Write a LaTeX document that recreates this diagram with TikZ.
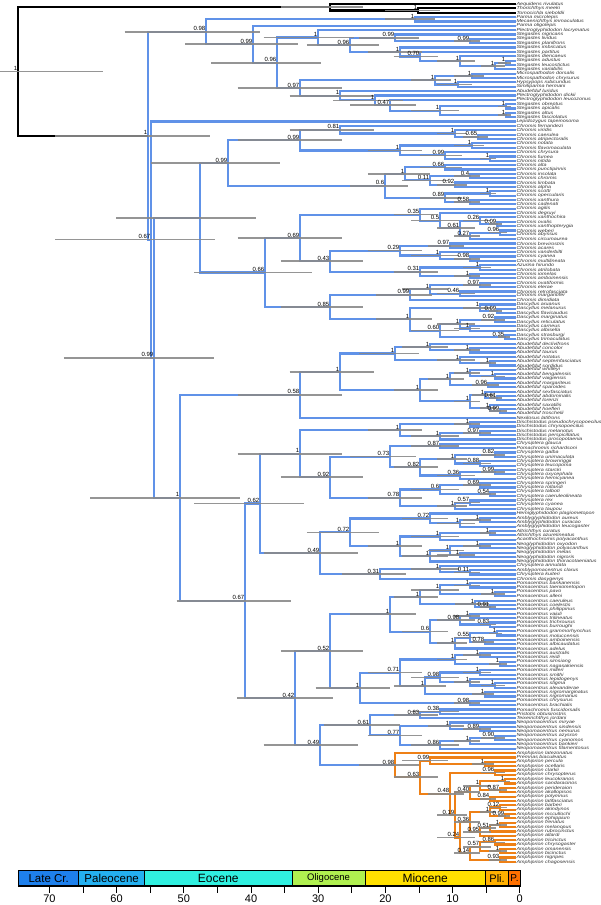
\documentclass[tikz,border=0pt]{standalone}
\usepackage{fontspec}
\setmainfont{Liberation Sans}
\newfontfamily\tipfont[FakeStretch=1.22]{Liberation Sans}
\usetikzlibrary{calc}

\pgfdeclarelayer{hpdl}
\pgfdeclarelayer{fg}
\pgfsetlayers{main,hpdl,fg}

\definecolor{pblue}{RGB}{96,146,232}
\definecolor{amph}{RGB}{238,128,22}
\definecolor{hpdgray}{RGB}{138,138,138}
\definecolor{lcr}{RGB}{30,128,236}
\definecolor{paleo}{RGB}{36,176,240}
\definecolor{eoc}{RGB}{48,240,224}
\definecolor{oligo}{RGB}{176,240,80}
\definecolor{mioc}{RGB}{255,224,0}
\definecolor{plio}{RGB}{255,176,0}
\definecolor{pleist}{RGB}{255,112,0}
\colorlet{brc}{pblue}

\tikzset{
  br/.style={draw=brc, line width=2.2pt, line join=miter},
  hpd/.style={draw=hpdgray, line width=1.6pt, opacity=0.9},
  pp/.style={anchor=south east, inner sep=0.6pt, font=\fontsize{6}{6}\selectfont},
  tip/.style={anchor=west, inner sep=0.8pt, text=black!80, font=\tipfont\fontsize{4.4}{4.4}\selectfont\itshape},
  ep/.style={inner sep=0pt},
  yr/.style={anchor=north, inner sep=0pt, font=\fontsize{11}{11}\selectfont}
}

% node: name, x, child 1, child 2, posterior
\newcommand\nd[5]{%
  \path let \p1=(#3), \p2=(#4) in (#2pt,{(\y1+\y2)/2}) coordinate (#1);
  \draw[br] (#3) -| (#1) |- (#4);
  \pgfmathsetmacro\hw{0.2*(515-#2)+3+mod(#2,7)}
  \pgfmathsetmacro\hwl{1.2*\hw}
  \pgfmathsetmacro\hwr{min(0.8*\hw,513-#2)}
  \begin{pgfonlayer}{hpdl}\draw[hpd] ([xshift=-\hwl pt]#1) -- ([xshift=\hwr pt]#1);\end{pgfonlayer}
  \begin{pgfonlayer}{fg}\node[pp] (#1l) at (#1) {#5};\end{pgfonlayer}}

\begin{document}
\begin{tikzpicture}[x=1pt,y=-1pt]
\useasboundingbox (0,0) rectangle (600,905);

% tips
\foreach \sp [count=\i] in {Aequidens rivulatus,Thorichthys meeki,Tomocichla sieboldii,Parma microlepis,Mecaenichthys immaculatus,Parma oligolepis,Plectroglyphidodon lacrymatus,Stegastes nigricans,Stegastes lividus,Stegastes planifrons,Stegastes imbricatus,Stegastes partitus,Stegastes diencaeus,Stegastes adustus,Stegastes leucostictus,Stegastes variabilis,Microspathodon dorsalis,Microspathodon chrysurus,Hypsypops rubicundus,Similiparma hermani,Abudefduf luridus,Plectroglyphidodon dickii,Plectroglyphidodon leucozonus,Stegastes obreptus,Stegastes apicalis,Stegastes altus,Stegastes fasciolatus,Lepidozygus tapeinosoma,Chromis fernandezi,Chromis viridis,Chromis caerulea,Chromis atripectoralis,Chromis notata,Chromis flavomaculata,Chromis chrysura,Chromis fumea,Chromis nitida,Chromis alta,Chromis punctipinnis,Chromis insolata,Chromis chromis,Chromis limbata,Chromis alpha,Chromis scotti,Chromis opercularis,Chromis xanthura,Chromis cadenati,Chromis agilis,Chromis degruyi,Chromis xanthochira,Chromis ovalis,Chromis xanthopterygia,Chromis weberi,Chromis abyssus,Chromis circumaurea,Chromis brevirostris,Chromis acares,Chromis vanderbilti,Chromis cyanea,Chromis multilineata,Azurina hirundo,Chromis atrilobata,Chromis iomelas,Chromis amboinensis,Chromis ovatiformis,Chromis elerae,Chromis retrofasciata,Chromis margaritifer,Chromis dimidiata,Dascyllus aruanus,Dascyllus melanurus,Dascyllus flavicaudus,Dascyllus marginatus,Dascyllus reticulatus,Dascyllus carneus,Dascyllus albisella,Dascyllus strasburgi,Dascyllus trimaculatus,Abudefduf declivifrons,Abudefduf concolor,Abudefduf taurus,Abudefduf notatus,Abudefduf septemfasciatus,Abudefduf sordidus,Abudefduf whitleyi,Abudefduf bengalensis,Abudefduf vaigiensis,Abudefduf margariteus,Abudefduf sparoides,Abudefduf sexfasciatus,Abudefduf abdominalis,Abudefduf lorenzi,Abudefduf saxatilis,Abudefduf hoefleri,Abudefduf troschelii,Nexilosus latifrons,Dischistodus pseudochrysopoecilus,Dischistodus chrysopoecilus,Dischistodus melanotus,Dischistodus perspicillatus,Dischistodus prosopotaenia,Chrysiptera glauca,Pomachromis richardsoni,Chrysiptera galba,Chrysiptera unimaculata,Chrysiptera brownriggii,Chrysiptera leucopoma,Chrysiptera starcki,Chrysiptera oxycephala,Chrysiptera hemicyanea,Chrysiptera springeri,Chrysiptera rollandi,Chrysiptera talboti,Chrysiptera caeruleolineata,Chrysiptera rex,Chrysiptera cyanea,Chrysiptera taupou,Hemiglyphidodon plagiometopon,Amblyglyphidodon aureus,Amblyglyphidodon curacao,Amblyglyphidodon leucogaster,Altrichthys curatus,Altrichthys azurelineatus,Acanthochromis polyacanthus,Neoglyphidodon oxyodon,Neoglyphidodon polyacanthus,Neoglyphidodon melas,Neoglyphidodon nigroris,Neoglyphidodon thoracotaeniatus,Chrysiptera annulata,Amblypomacentrus clarus,Chrysiptera kuiteri,Chromis dasygenys,Pomacentrus bankanensis,Pomacentrus taeniometopon,Pomacentrus pavo,Pomacentrus alleni,Pomacentrus caeruleus,Pomacentrus coelestis,Pomacentrus philippinus,Pomacentrus vaiuli,Pomacentrus trilineatus,Pomacentrus trichrourus,Pomacentrus burroughi,Pomacentrus grammorhynchus,Pomacentrus moluccensis,Pomacentrus amboinensis,Pomacentrus albicaudatus,Pomacentrus adelus,Pomacentrus australis,Pomacentrus reidi,Pomacentrus simsiang,Pomacentrus nagasakiensis,Pomacentrus milleri,Pomacentrus smithi,Pomacentrus lepidogenys,Pomacentrus stigma,Pomacentrus alexanderae,Pomacentrus nigromarginatus,Pomacentrus nigromanus,Pomacentrus chrysurus,Pomacentrus brachialis,Pomachromis fuscidorsalis,Pristotis obtusirostris,Teixeirichthys jordani,Neopomacentrus miryae,Neopomacentrus sindensis,Neopomacentrus nemurus,Neopomacentrus azysron,Neopomacentrus cyanomos,Neopomacentrus bankieri,Neopomacentrus filamentosus,Amphiprion latezonatus,Premnas biaculeatus,Amphiprion percula,Amphiprion ocellaris,Amphiprion clarkii,Amphiprion chrysopterus,Amphiprion leucokranos,Amphiprion sandaracinos,Amphiprion perideraion,Amphiprion akallopisos,Amphiprion polymnus,Amphiprion latifasciatus,Amphiprion barberi,Amphiprion akindynos,Amphiprion mccullochi,Amphiprion ephippium,Amphiprion frenatus,Amphiprion melanopus,Amphiprion rubrocinctus,Amphiprion allardi,Amphiprion tricinctus,Amphiprion chrysogaster,Amphiprion omanensis,Amphiprion bicinctus,Amphiprion nigripes,Amphiprion chagosensis}{
  \coordinate (t\i) at (515.5,{4+(\i-1)*4.355});
  \node[tip] (sp\i) at (t\i) {\sp};
}

% outgroup
\colorlet{brc}{black}
\nd{o1}{418}{t2}{t3}{1}
\nd{o2}{330}{t1}{o1}{}
\colorlet{brc}{pblue}

% Stegastinae
\nd{a1}{415}{t4}{t5}{1}
\nd{s1}{470}{t9}{t10}{0.99}
\nd{s2}{395}{t8}{s1}{0.99}
\nd{s3}{506}{t14}{t15}{1}
\nd{s4}{495}{s3}{t16}{1}
\nd{s5}{460}{t13}{s4}{1}
\nd{s6}{420}{t12}{s5}{0.70}
\nd{s7}{400}{t11}{s6}{1}
\nd{st}{350}{s2}{s7}{0.96}
\nd{a4}{318}{t7}{st}{1}
\nd{m1}{472}{t17}{t18}{1}
\nd{m2}{458}{t19}{t20}{1}
\nd{m3}{435}{m1}{m2}{1}
\nd{p1}{506}{t24}{t25}{1}
\nd{p2}{506}{t26}{t27}{1}
\nd{p3}{440}{p1}{p2}{1}
\nd{p4}{390}{t23}{p3}{0.47}
\nd{p5}{375}{t22}{p4}{1}
\nd{p6}{340}{t21}{p5}{1}
\nd{a5}{300}{m3}{p6}{0.97}
\nd{a3}{277}{a4}{a5}{0.96}
\nd{a2}{253}{t6}{a3}{0.99}
\nd{sg}{206}{a1}{a2}{0.98}

% Chrominae
\nd{c1}{478}{t31}{t32}{0.65}
\nd{c2}{455}{t30}{c1}{1}
\nd{c3}{340}{t29}{c2}{0.81}
\nd{c4}{472}{t33}{t34}{1}
\nd{c5}{490}{t36}{t37}{1}
\nd{c6}{445}{t35}{c5}{0.99}
\nd{c7}{400}{c4}{c6}{1}
\nd{c8}{300}{c3}{c7}{0.99}
\nd{c9}{470}{t40}{t41}{0.4}
\nd{c10}{455}{t42}{t43}{0.92}
\nd{c11}{430}{c9}{c10}{0.11}
\nd{c12}{445}{t38}{t39}{0.66}
\nd{c13}{405}{c12}{c11}{1}
\nd{c14}{490}{t44}{t45}{1}
\nd{c15}{470}{t46}{t47}{0.58}
\nd{c16}{445}{c14}{c15}{0.89}
\nd{c17}{385}{c13}{c16}{0.6}
\nd{c18}{228}{c8}{c17}{0.99}
\nd{c20}{497}{t51}{t52}{0.09}
\nd{c21}{480}{t50}{c20}{0.26}
\nd{c22}{500}{t53}{t54}{0.96}
\nd{c23}{470}{c22}{t55}{0.27}
\nd{c24}{460}{c21}{c23}{0.61}
\nd{c25}{440}{t49}{c24}{0.5}
\nd{c26}{420}{t48}{c25}{0.35}
\nd{c27}{450}{t56}{t57}{0.97}
\nd{c28}{470}{t59}{t60}{0.98}
\nd{c29}{440}{t58}{c28}{1}
\nd{c30}{400}{c27}{c29}{0.29}
\nd{c31}{480}{t61}{t62}{1}
\nd{c32}{470}{t63}{t64}{1}
\nd{c33}{420}{c31}{c32}{0.31}
\nd{c34}{330}{c30}{c33}{0.43}
\nd{c35}{300}{c26}{c34}{0.69}
\nd{c36}{480}{t65}{t66}{0.97}
\nd{c37}{460}{t67}{t68}{0.46}
\nd{c38}{430}{c36}{c37}{1}
\nd{c39}{410}{c38}{t69}{0.99}
\nd{d1}{497}{t71}{t72}{0.99}
\nd{d2}{480}{t70}{d1}{1}
\nd{d3}{495}{t73}{t74}{0.92}
\nd{d4}{470}{t75}{t76}{1}
\nd{d5}{460}{d3}{d4}{1}
\nd{d6}{505}{t77}{t78}{0.35}
\nd{d7}{440}{d5}{d6}{0.60}
\nd{d8}{410}{d2}{d7}{1}
\nd{c40}{330}{c39}{d8}{0.85}
\nd{c41}{265}{c35}{c40}{0.66}
\nd{cc}{200}{c18}{c41}{}

% Abudefduf
\nd{b1}{470}{t80}{t81}{1}
\nd{b2}{430}{t79}{b1}{1}
\nd{b3}{490}{t83}{t84}{1}
\nd{b4}{460}{t82}{b3}{1}
\nd{b5}{395}{b2}{b4}{1}
\nd{b6}{495}{t86}{t87}{1}
\nd{b7}{470}{t85}{b6}{1}
\nd{b8}{488}{t88}{t89}{0.96}
\nd{b9}{450}{b7}{b8}{1}
\nd{b10}{497}{t91}{t92}{0.61}
\nd{b11}{485}{t90}{b10}{1}
\nd{b12}{500}{t94}{t95}{0.99}
\nd{b13}{490}{t93}{b12}{1}
\nd{b14}{470}{b11}{b13}{1}
\nd{b15}{420}{b9}{b14}{1}
\nd{b16}{340}{b5}{b15}{1}
\nd{b17}{300}{b16}{t96}{0.58}

% Dischistodus, Chrysiptera, Neoglyphidodon
\nd{e1}{470}{t97}{t98}{1}
\nd{e2}{480}{t99}{t100}{0.97}
\nd{e3}{440}{e2}{t101}{1}
\nd{e4}{400}{e1}{e3}{1}
\nd{e5}{440}{t102}{t103}{0.87}
\nd{e6}{495}{t104}{t105}{0.82}
\nd{e7}{480}{t106}{t107}{0.88}
\nd{e8}{455}{e6}{e7}{1}
\nd{e9}{495}{t108}{t109}{0.99}
\nd{e10}{460}{e9}{t110}{0.36}
\nd{e11}{420}{e8}{e10}{0.82}
\nd{e12}{390}{e5}{e11}{0.73}
\nd{e13}{480}{t111}{t112}{0.69}
\nd{e14}{490}{t113}{t114}{0.54}
\nd{e15}{440}{e13}{e14}{0.6}
\nd{e16}{470}{t115}{t116}{0.57}
\nd{e17}{455}{e16}{t117}{1}
\nd{e18}{400}{e15}{e17}{0.78}
\nd{e19}{330}{e12}{e18}{0.92}
\nd{e20}{300}{e4}{e19}{1}
\nd{f1}{480}{t119}{t120}{1}
\nd{f2}{460}{f1}{t121}{1}
\nd{f3}{430}{t118}{f2}{0.72}
\nd{f4}{490}{t122}{t123}{1}
\nd{f5}{440}{f4}{t124}{1}
\nd{f6}{480}{t125}{t126}{1}
\nd{f7}{460}{t127}{t128}{1}
\nd{f8}{450}{f6}{f7}{1}
\nd{f9}{430}{f8}{t129}{1}
\nd{f10}{400}{f5}{f9}{1}
\nd{f11}{350}{f3}{f10}{0.72}
\nd{f12}{470}{t131}{t132}{0.11}
\nd{f13}{440}{t130}{f12}{1}
\nd{f14}{380}{f13}{t133}{0.31}
\nd{f15}{320}{f11}{f14}{0.49}
\nd{x1}{260}{e20}{f15}{0.62}

% Pomacentrus and allies
\nd{g1}{470}{t134}{t135}{1}
\nd{g2}{495}{t136}{t137}{1}
\nd{g3}{440}{g1}{g2}{1}
\nd{g4}{490}{t139}{t140}{0.91}
\nd{g5}{475}{t138}{g4}{1}
\nd{g6}{420}{g3}{g5}{1}
\nd{g7}{470}{t141}{t142}{1}
\nd{g8}{490}{t143}{t144}{0.83}
\nd{g9}{460}{g7}{g8}{0.98}
\nd{g10}{497}{t145}{t146}{1}
\nd{g11}{485}{t147}{t148}{0.78}
\nd{g12}{470}{g10}{g11}{0.55}
\nd{g13}{455}{g12}{t149}{1}
\nd{g14}{430}{g9}{g13}{0.6}
\nd{g15}{390}{g6}{g14}{1}
\nd{g16}{480}{t150}{t151}{1}
\nd{g17}{500}{t152}{t153}{1}
\nd{g18}{455}{g16}{g17}{1}
\nd{g19}{480}{t154}{t155}{1}
\nd{g20}{495}{t157}{t158}{1}
\nd{g21}{470}{t156}{g20}{1}
\nd{g22}{440}{g19}{g21}{0.98}
\nd{g23}{485}{t159}{t160}{1}
\nd{g24}{425}{g22}{g23}{1}
\nd{g25}{400}{g18}{g24}{0.71}
\nd{g26}{470}{t161}{t162}{0.98}
\nd{g27}{360}{g25}{g26}{1}
\nd{g28}{330}{g15}{g27}{0.52}
\nd{g29}{440}{t163}{t164}{0.38}
\nd{g30}{420}{g29}{t165}{0.83}
\nd{n1}{480}{t167}{t168}{0.89}
\nd{n2}{450}{t166}{n1}{1}
\nd{n3}{495}{t169}{t170}{0.90}
\nd{n4}{470}{n3}{t171}{1}
\nd{n5}{440}{n4}{t172}{0.86}
\nd{n6}{400}{n2}{n5}{0.77}
\nd{g31}{370}{g30}{n6}{0.61}

% Amphiprion
\colorlet{brc}{amph}
\nd{h1}{485}{t175}{t176}{1}
\nd{h2}{430}{t174}{h1}{0.99}
\nd{h3}{495}{t177}{t178}{0.96}
\nd{h4}{505}{t179}{t180}{1}
\nd{h5}{500}{t181}{t182}{0.87}
\nd{h6}{480}{h4}{h5}{1}
\nd{h7}{490}{t183}{t184}{0.84}
\nd{h8}{470}{h6}{h7}{0.40}
\nd{h9}{500}{t185}{t186}{0.12}
\nd{h10}{505}{t187}{t188}{0.99}
\nd{h11}{490}{h9}{h10}{1}
\nd{h12}{500}{t189}{t190}{1}
\nd{h13}{490}{h12}{t191}{0.51}
\nd{h14}{480}{h13}{t192}{0.95}
\nd{h15}{470}{h11}{h14}{0.36}
\nd{h16}{495}{t193}{t194}{0.86}
\nd{h17}{500}{t195}{t196}{1}
\nd{h18}{480}{h16}{h17}{0.57}
\nd{h19}{500}{t197}{t198}{0.93}
\nd{h20}{470}{h18}{h19}{0.14}
\nd{h21}{460}{h15}{h20}{0.24}
\nd{h22}{455}{h8}{h21}{0.19}
\nd{h23}{450}{h3}{h22}{0.48}
\nd{h24}{420}{h2}{h23}{0.63}
\nd{h25}{395}{t173}{h24}{0.98}
\colorlet{brc}{pblue}

\nd{g33}{320}{g31}{h25}{0.49}
\nd{x2}{295}{g28}{g33}{0.42}
\nd{pm}{245}{x1}{x2}{0.67}
\nd{rest}{180}{b17}{pm}{1}
\nd{r}{154}{cc}{rest}{0.99}
\nd{q}{151}{t28}{r}{0.67}
\nd{p}{148}{sg}{q}{1}
\colorlet{brc}{black}
\nd{root}{18}{o2}{p}{1}

% time scale
\foreach \xa/\xb/\col/\txt/\fs [count=\k] in {18.6/78.8/lcr/Late Cr./11.5,78.8/144.5/paleo/Paleocene/11.5,144.5/292/eoc/Eocene/12,292/365/oligo/Oligocene/9.5,365/485.4/mioc/Miocene/12,485.4/508.7/plio/Pli./11,508.7/520.4/pleist/P./10}{
  \draw[fill=\col, line width=0.8pt] (\xa,870) rectangle (\xb,886);
  \node[ep, font=\fontsize{\fs}{\fs}\selectfont] (ep\k) at ({(\xa+\xb)/2},878.5) {\txt};
}
\draw[line width=1.2pt] (18.6,886) -- (520.4,886);
\foreach \a in {0,5,...,70}
  \draw[line width=0.8pt] ({519.8-6.72*\a},886) -- ++(0,6.5);
\foreach \a in {0,10,...,70}
  \node[yr] (yr\a) at ({519.8-6.72*\a},894.5) {\a};

\end{tikzpicture}
\end{document}
